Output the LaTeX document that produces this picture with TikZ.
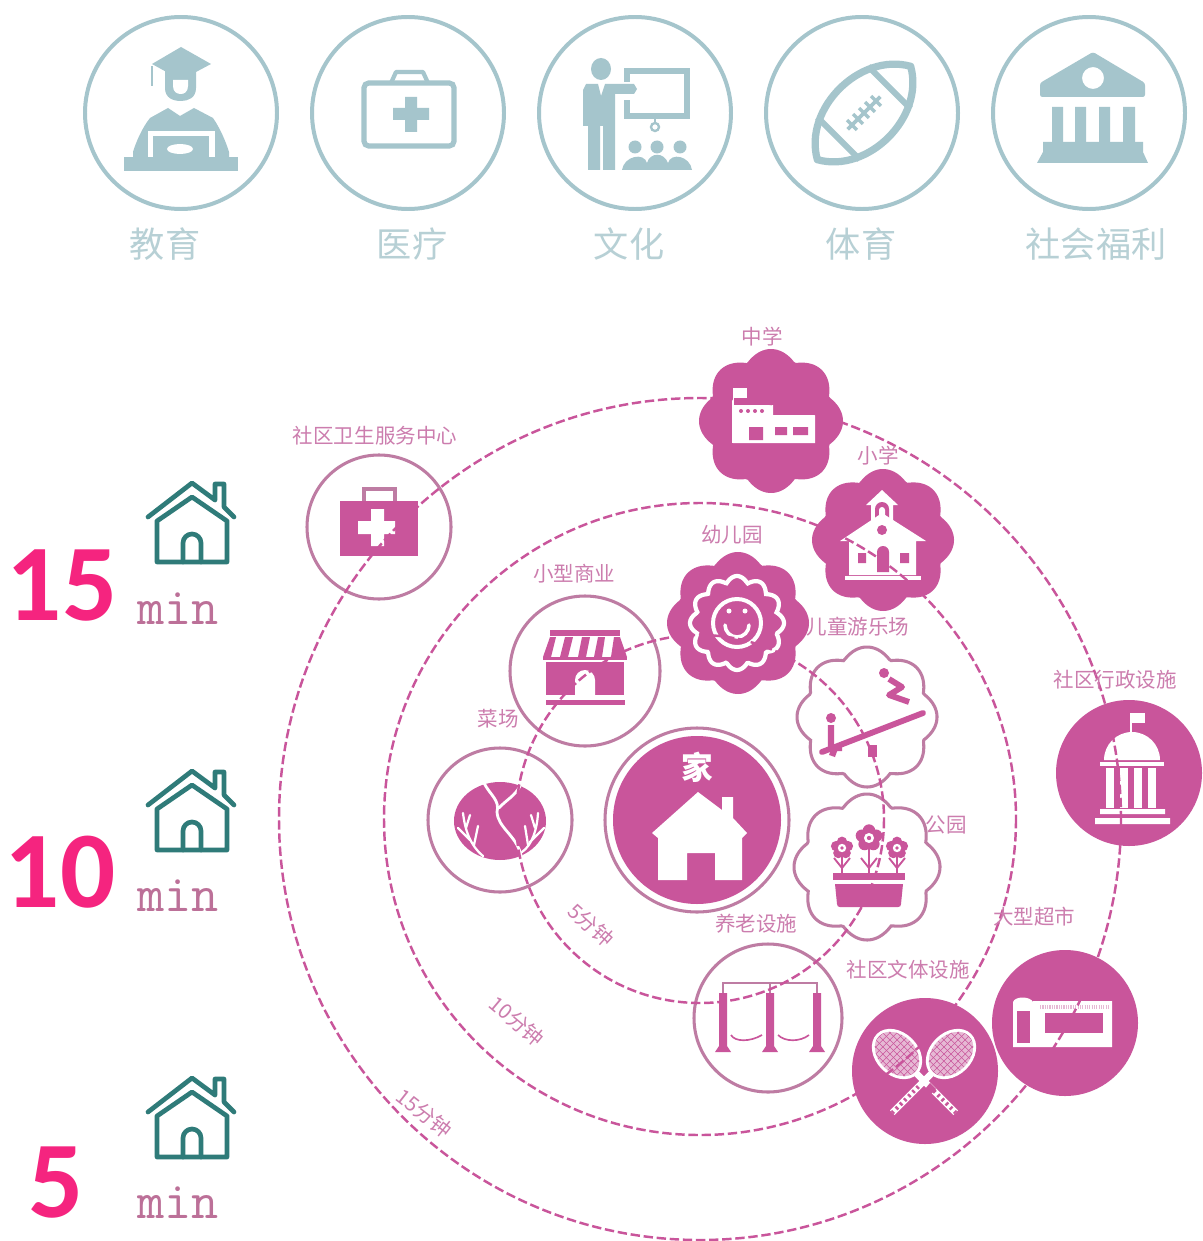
\documentclass[tikz,border=0pt]{standalone}
\usepackage{fontspec}
\newfontfamily\cjk{Noto Sans CJK SC}
\newfontfamily\numf{Carlito}
\definecolor{teallt}{HTML}{A5C5CC}
\definecolor{teallbl}{HTML}{B7D0D5}
\definecolor{mag}{HTML}{C9559B}
\definecolor{magline}{HTML}{BE7CA3}
\definecolor{lblc}{HTML}{CC7DAE}
\definecolor{hotp}{HTML}{F5247F}
\definecolor{housec}{HTML}{2F7B79}
\definecolor{minc}{HTML}{BC7098}
\definecolor{gridp}{HTML}{E6B9D4}
\tikzset{
  x=0.03cm,y=-0.03cm,
  topring/.style={draw=teallt,line width=3.4pt},
  toplbl/.style={font=\cjk\fontsize{30}{33}\selectfont,text=teallbl,inner sep=0pt},
  ringline/.style={draw=mag,line width=2.1pt,dash pattern=on 8pt off 3.2pt},
  lbl/.style={font=\cjk\fontsize{17.5}{20}\selectfont,text=lblc,inner sep=0pt},
  outl/.style={draw=magline,line width=2.6pt},
  bignum/.style={font=\numf\bfseries\fontsize{93}{97}\selectfont,text=hotp,inner sep=0pt},
  minlbl/.style={font=\ttfamily\fontsize{45}{48}\selectfont,text=minc,inner sep=0pt,anchor=base},
  hline/.style={draw=housec,line width=4pt,line cap=round,line join=round},
  wl/.style={draw=white,line cap=round,line join=round}
}
\newcommand{\flowerpath}[4]{plot[domain=0:359,samples=181,variable=\t] ({#1+#3*(0.87+0.13*abs(cos(#4*\t/2)))*cos(\t)},{#2+#3*(0.87+0.13*abs(cos(#4*\t/2)))*sin(\t)}) -- cycle}
\newcommand{\homeicon}[2]{%
 \begin{scope}[shift={(#1,#2)}]
  \draw[hline] (-44,34) -- (0,0) -- (23,17) (23,17) -- (23,1) -- (32,1) -- (32,24) (32,24) -- (42,34);
  \draw[hline] (-35,38) -- (-35,79) -- (35,79) -- (35,38) (-35,38) -- (0,14) -- (35,38);
  \draw[hline] (-9,79) -- (-9,60) arc[start angle=180,end angle=360,radius=9] -- (9,79);
 \end{scope}}
\begin{document}
\begin{tikzpicture}
\useasboundingbox (0,0) rectangle (1202,1241);
\fill[white] (0,0) rectangle (1202,1241);
%--- top row rings
\foreach \n/\cx in {a/181,b/408,c/635,d/862,e/1089}{\draw[topring] (\cx,113) circle[radius=96];}
\node[toplbl] (ta) at (165,244) {教育};
\node[toplbl] (tb) at (412,244) {医疗};
\node[toplbl] (tc) at (629,244) {文化};
\node[toplbl] (td) at (861,244) {体育};
\node[toplbl] (te) at (1096,244) {社会福利};
% graduate
\fill[teallt] (181,47) -- (211,64) -- (181,80) -- (152,64) -- cycle;
\draw[teallt,line width=2.5pt] (152,66) -- (152,86);
\fill[teallt] (165,70) -- (196,70) -- (196,88) .. controls (196,98) and (188,101) .. (181,101) .. controls (173,101) and (165,98) .. (165,88) -- cycle;
\fill[white] (173,80) -- (188,80) -- (188,86) .. controls (188,92) and (184,94) .. (181,94) .. controls (177,94) and (173,92) .. (173,86) -- cycle;
\fill[teallt] (168,108) -- (180,116) -- (194,108) -- (213,118) .. controls (220,128) and (226,142) .. (229,152) -- (229,158) -- (133,158) -- (133,152) .. controls (136,142) and (142,128) .. (150,118) -- cycle;
\fill[teallt] (124,157) rectangle (238,171);
\fill[white] (148,131) rectangle (215,157);
\fill[teallt] (153,136) rectangle (209,157);
\fill[white] (180,149) ellipse[x radius=13,y radius=5];
% medical
\draw[teallt,line width=4.4pt,rounded corners=4pt] (364,83) rectangle (454,146);
\draw[teallt,line width=3.6pt,line join=round] (391,83) -- (396,72) -- (423,72) -- (428,83);
\fill[teallt] (405,97) rectangle (417,132) (393,108) rectangle (429,120);
% culture
\fill[teallt] (601,69) ellipse[x radius=10,y radius=11];
\fill[teallt] (586,84) -- (598,84) -- (601,96) -- (605,84) -- (634,84) -- (637,89) -- (634,94) -- (615,94) -- (615,170) -- (603,170) -- (603,126) -- (600,126) -- (600,170) -- (588,170) -- (588,126) -- (583,126) -- (583,90) -- cycle;
\draw[teallt,line width=4.6pt] (627,82) -- (627,71) -- (687,71) -- (687,116) -- (627,116) -- (627,100);
\draw[teallt,line width=2pt] (655,118) -- (655,123);
\draw[teallt,line width=2pt] (655,127) circle[radius=4];
\fill[teallt] (635,147) circle[radius=6.5] (657,147) circle[radius=6.5] (680,147) circle[radius=6.5];
\fill[teallt] (622,170) .. controls (624,156) and (644,152) .. (647,163) .. controls (650,152) and (664,152) .. (668,163) .. controls (671,152) and (690,156) .. (692,170) -- cycle;
% football
\begin{scope}[shift={(864,113)},rotate=45]
 \draw[teallt,line width=6.2pt,line join=round] (-66,0) .. controls (-40,-46) and (40,-46) .. (66,0) .. controls (40,46) and (-40,46) .. (-66,0) -- cycle;
 \draw[teallt,line width=5.2pt] (-36,-30) -- (-36,30) (36,-30) -- (36,30);
 \draw[teallt,line width=3.2pt] (-23,0) -- (23,0);
 \foreach \u in {-17,-8.5,0,8.5,17}{\draw[teallt,line width=2.8pt] (\u,-7) -- (\u,7);}
\end{scope}
% bank
\fill[teallt,even odd rule,rounded corners=2pt] (1093,52) -- (1145,83) -- (1145,97) -- (1040,97) -- (1040,83) -- cycle (1093,78) circle[radius=11];
\fill[teallt] (1052,107) rectangle (1063,142) (1075,107) rectangle (1086,142) (1099,107) rectangle (1110,142) (1123,107) rectangle (1135,142);
\fill[teallt] (1043,142) -- (1143,142) -- (1143,152) -- (1148,163) -- (1037,163) -- (1043,152) -- cycle;
%--- left column
\homeicon{192}{483}\homeicon{192}{771}\homeicon{192}{1078}
\node[bignum] (n15) at (62,585) {15};
\node[bignum] (n10) at (60,872) {10};
\node[bignum] (n5) at (56,1183) {5};
\node[minlbl] (m15) at (178,624) {min};
\node[minlbl] (m10) at (178,911) {min};
\node[minlbl] (m5) at (178,1218) {min};
%--- outlined nodes
\draw[outl] (379,527) circle[radius=72];
\draw[outl] (585,671) circle[radius=75];
\draw[outl] (500,820) circle[radius=72];
\draw[outl] (697,820) circle[radius=92];
\draw[outl] (768,1018) circle[radius=74];
\draw[outl] \flowerpath{867}{717}{70}{8};
\draw[outl] \flowerpath{867}{867}{73}{8};
%--- filled nodes
\fill[mag] \flowerpath{771}{421}{72}{8};
\fill[mag] \flowerpath{883}{540}{71}{8};
\fill[mag] \flowerpath{738}{623}{71}{8};
\fill[mag] (697,820) circle[radius=84];
\fill[mag] (925,1071) circle[radius=73];
\fill[mag] (1065,1023) circle[radius=73];
\fill[mag] (1129,773) circle[radius=73];
% medical icon
\fill[mag] (340,501) rectangle (418,556);
\draw[magline,line width=2.6pt] (364,501) -- (364,489) -- (395,489) -- (395,501);
\fill[white] (371,509) rectangle (384,546) (358,521) rectangle (395,534);
% school (middle)
\fill[white] (733,388) rectangle (747,398);
\fill[white] (733,405) rectangle (773,443) (773,415) rectangle (815,443);
\draw[white,line width=1pt] (733,398) -- (733,443);
\fill[mag] (749,427) rectangle (763,440) (775,427) rectangle (787,435) (793,427) rectangle (808,435);
\foreach \u in {741,748,755,762}{\fill[mag] (\u,411) circle[radius=2];}
% school (primary)
\fill[white] (882,490) -- (898,505) -- (893,505) -- (893,525) -- (871,525) -- (871,505) -- (866,505) -- cycle;
\fill[mag] (875,522) -- (875,509) arc[start angle=180,end angle=360,radius=7] -- (889,522) -- cycle;
\fill[white] (879,522) -- (879,510) arc[start angle=180,end angle=360,radius=3] -- (885,522) -- cycle;
\fill[white] (882,513) -- (926,541) -- (916,541) -- (916,575) -- (849,575) -- (849,541) -- (840,541) -- cycle;
\fill[white] (845,576) rectangle (921,580);
\fill[mag] (882,530) circle[radius=5];
\fill[mag] (877,572) -- (877,552) arc[start angle=180,end angle=360,radius=6] -- (889,572) -- cycle;
\fill[mag] (858,553) rectangle (866,563) (900,553) rectangle (909,563);
% kindergarten
\draw[white,line width=3.6pt] \flowerpath{737}{623}{47}{12};
\draw[white,line width=3.4pt] (737,623) circle[radius=24];
\draw[white,line width=3pt,line cap=round] (725,625) arc[start angle=180,end angle=0,radius=12];
\fill[white] (729,611) circle[radius=2.5] (745,611) circle[radius=2.5];
% playground
\draw[mag,line width=5pt,line cap=round] (822,752) -- (923,713);
\fill[mag] (868,745) rectangle (877,757);
\fill[mag] (831,718) circle[radius=5] (884,673) circle[radius=5];
\draw[mag,line width=5.4pt,line join=round] (831,725) -- (831,748) -- (842,748) (836,745) -- (832,756);
\draw[mag,line width=5pt,line join=round] (889,679) -- (902,687) -- (889,695) -- (909,702);
% park
\foreach \fx/\fy/\fr in {869/838/12,842/848/10,897/848/10}{
 \draw[mag,line width=1.8pt] (\fx,\fy) -- (\fx,873);
 \draw[mag,line width=1.6pt] (\fx,868) -- (\fx-8,858) (\fx,868) -- (\fx+8,858);
 \foreach \a in {0,72,144,216,288}{\fill[mag] ({\fx+\fr*0.62*cos(\a+90)},{\fy-\fr*0.62*sin(\a+90)}) circle[radius=\fr*0.52];}
 \fill[white] (\fx,\fy) circle[radius=\fr*0.42];
 \fill[mag] (\fx,\fy) circle[radius=\fr*0.18];
}
\fill[mag] (833,873) rectangle (905,880);
\fill[mag] (835,884) -- (903,884) -- (901,904) .. controls (901,906) and (900,907) .. (898,907) -- (840,907) .. controls (838,907) and (837,906) .. (837,904) -- cycle;
% shop
\fill[mag] (550,630) rectangle (620,636);
\fill[white] (550,637) -- (620,637) -- (627,657) -- (543,657) -- cycle;
\foreach \u/\v/\w/\z in {550/556/543/551,565/573/560/568,582/590/578/586,598/605/594/602,614/620/611/627}{\fill[mag] (\u,637) -- (\v,637) -- (\z,657) -- (\w,657) -- cycle;}
\fill[mag] (543,657) rectangle (627,660);
\fill[mag] (546,662) rectangle (624,695);
\fill[white] (575,695) -- (575,680) arc[start angle=180,end angle=360,radius=10] -- (595,695) -- cycle;
\fill[mag] (546,700) rectangle (625,705);
% cabbage
\fill[mag] (500,821) ellipse[x radius=46,y radius=39];
\draw[wl,line width=2.4pt] (484,783) .. controls (490,795) and (500,800) .. (497,812) .. controls (498,828) and (516,835) .. (521,855);
\draw[wl,line width=2.4pt] (520,786) .. controls (515,796) and (506,800) .. (499,808);
\draw[wl,line width=1.9pt] (483,856) .. controls (470,845) and (465,830) .. (463,813) (470,840) -- (458,828) (474,845) -- (478,826) (466,828) -- (470,815);
\draw[wl,line width=1.9pt] (522,852) .. controls (532,845) and (537,830) .. (538,813) (530,842) -- (544,828) (528,845) -- (525,826) (535,828) -- (531,815);
% home
\fill[white] (698,792) -- (722,810) -- (722,797) -- (733,797) -- (733,818) -- (747,833) -- (742,838) -- (742,880) -- (715,880) -- (715,853) -- (687,853) -- (687,880) -- (658,880) -- (658,838) -- (652,833) -- cycle;
\node[font=\cjk\bfseries\fontsize{27}{29}\selectfont,text=white,inner sep=0pt] (jia) at (697,767) {家};
% swings
\foreach \u in {723,770,817}{\fill[mag] (\u-4,993) -- (\u+4,993) -- (\u+4,1046) -- (\u+8,1052) -- (\u-8,1052) -- (\u-4,1046) -- cycle;}
\draw[magline,line width=1.5pt] (723,993) -- (723,983) -- (817,983) -- (817,993) (770,983) -- (770,993);
\draw[mag,line width=1.4pt] (731,1035) .. controls (735,1042) and (750,1042) .. (762,1035) (778,1035) .. controls (785,1042) and (800,1042) .. (809,1035);
% rackets
\foreach \cxr/\rot in {897/-45,951/225}{
 \begin{scope}[shift={(\cxr,1054)},rotate=\rot]
  \begin{scope}
   \clip (0,0) ellipse[x radius=27,y radius=20];
   \fill[gridp] (-28,-21) rectangle (28,21);
   \foreach \u in {-25,-20,...,25}{\draw[mag,line width=.45pt] (\u,-21) -- (\u,21);}
   \foreach \u in {-20,-15,...,20}{\draw[mag,line width=.45pt] (-28,\u) -- (28,\u);}
  \end{scope}
  \draw[white,line width=2.4pt] (0,0) ellipse[x radius=27,y radius=20];
  \draw[white,line width=5.6pt] (26,0) -- (83,0);
  \draw[mag,line width=3.4pt,dash pattern=on 2pt off 3pt] (46,0) -- (83,0);
 \end{scope}}
\fill[mag] (930,1083) -- (936,1089) -- (930,1095) -- (925,1089) -- cycle;
% supermarket
\fill[white] (1013,1047) -- (1013,1002) .. controls (1015,996) and (1030,996) .. (1033,1002) -- (1033,1001) -- (1112,1001) -- (1112,1047) -- cycle;
\fill[mag] (1017,1011) rectangle (1030,1043);
\fill[mag] (1045,1013) rectangle (1103,1033);
\draw[gridp,line width=3pt,dash pattern=on 1pt off 1pt] (1040,1007) -- (1110,1007);
% admin
\draw[white,line width=1.6pt] (1131,713) -- (1131,738);
\fill[white] (1131,713) rectangle (1145,723);
\fill[white] (1104,760) arc[start angle=180,end angle=360,radius=28] -- cycle;
\fill[white] (1100,762) rectangle (1164,766);
\foreach \u in {1106,1120,1134,1148}{\fill[white] (\u,768) rectangle (\u+8,808);}
\fill[white] (1100,809) rectangle (1165,814) (1095,818) rectangle (1170,824);
%--- rings of the walking distance: same colour as the fills, so they only show on white
\coordinate (homec) at (700,819);
\draw[ringline] (homec) circle[radius=421];
\draw[ringline] (homec) circle[radius=316];
\draw[ringline] (homec) circle[radius=184];
%--- labels
\node[lbl] (l1) at (375,436) {社区卫生服务中心};
\node[lbl] (l2) at (762,337) {中学};
\node[lbl] (l3) at (878,456) {小学};
\node[lbl] (l4) at (732,535) {幼儿园};
\node[lbl] (l5) at (574,574) {小型商业};
\node[lbl] (l6) at (858,627) {儿童游乐场};
\node[lbl] (l7) at (1115,680) {社区行政设施};
\node[lbl] (l8) at (498,719) {菜场};
\node[lbl] (l9) at (946,825) {公园};
\node[lbl] (l10) at (756,924) {养老设施};
\node[lbl] (l11) at (908,970) {社区文体设施};
\node[lbl] (l12) at (1034,917) {大型超市};
\node[lbl,rotate=-42] (l13) at (591,925) {5分钟};
\node[lbl,rotate=-40] (l14) at (517,1021) {10分钟};
\node[lbl,rotate=-38] (l15) at (424,1113) {15分钟};
\end{tikzpicture}
\end{document}
